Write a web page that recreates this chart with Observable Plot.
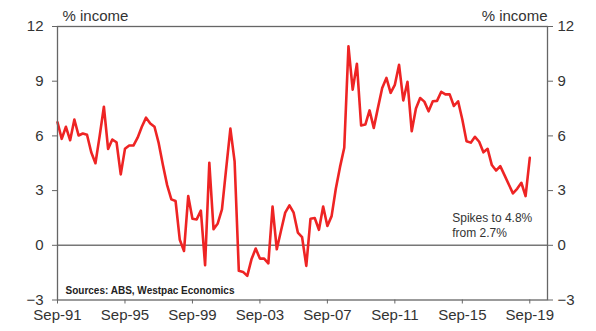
<!DOCTYPE html>
<html>
<head>
<meta charset="utf-8">
<script src="https://cdn.jsdelivr.net/npm/d3@7"></script>
<script src="https://cdn.jsdelivr.net/npm/@observablehq/plot@0.6"></script>
<style>
  html, body { margin: 0; padding: 0; background: #fff; }
  #chart { width: 596px; height: 331px; }
</style>
</head>
<body>
<div id="chart"></div>
<script>
// Household saving ratio, % of income, quarterly from Sep-91 to Sep-19
const startLabel = "Sep-91";
const savingRatio = [
  6.75, 5.84, 6.5, 5.76, 6.9, 6.02, 6.13, 6.06, 5.1, 4.5,
  6.0, 7.6, 5.29, 5.8, 5.65, 3.89, 5.29, 5.47, 5.47, 5.9,
  6.5, 7.0, 6.68, 6.5, 5.6, 4.4, 3.3, 2.52, 2.43, 0.3,
  -0.31, 2.7, 1.46, 1.42, 1.9, -1.09, 4.53, 0.88, 1.2, 1.97,
  4.2, 6.4, 4.6, -1.4, -1.46, -1.68, -0.77, -0.18, -0.73, -0.73,
  -0.99, 2.12, -0.22, 0.8, 1.79, 2.19, 1.79, 0.7, 0.45, -1.13,
  1.46, 1.5, 0.85, 2.13, 1.06, 1.6, 3.1, 4.3, 5.35, 10.91,
  8.54, 9.96, 6.57, 6.62, 7.4, 6.44, 7.55, 8.63, 9.18, 8.36,
  8.8, 9.9, 7.95, 8.97, 6.26, 7.5, 8.08, 7.88, 7.35, 7.9,
  7.92, 8.42, 8.28, 8.28, 7.64, 7.9, 6.9, 5.71, 5.63, 5.95,
  5.68, 5.1, 5.29, 4.4, 4.1, 4.34, 3.85, 3.35, 2.85, 3.1,
  3.43, 2.7, 4.8
];
const xTickQuarters = [0, 16, 32, 48, 64, 80, 96, 112];
const xTickLabels = ["Sep-91", "Sep-95", "Sep-99", "Sep-03", "Sep-07", "Sep-11", "Sep-15", "Sep-19"];
const yTicks = [-3, 0, 3, 6, 9, 12];
const unitLabel = "% income";
const sourceText = "Sources: ABS, Westpac Economics";
const noteText = "Spikes to 4.8%\nfrom 2.7%";

const data = savingRatio.map((v, i) => ({q: i, v}));
const labelOf = new Map(xTickQuarters.map((q, i) => [q, xTickLabels[i]]));

const plot = Plot.plot({
  width: 596,
  height: 331,
  marginLeft: 57,
  marginRight: 49,
  marginTop: 26,
  marginBottom: 31.5,
  style: {fontFamily: "'Liberation Sans', Arial, sans-serif", fontSize: "15px", color: "#333", background: "#fff"},
  x: {domain: [0, 116.2]},
  y: {domain: [-3, 12]},
  marks: [
    Plot.ruleY([0], {stroke: "#777", strokeWidth: 1.5}),
    Plot.line(data, {x: "q", y: "v", stroke: "#ee2424", strokeWidth: 2.6, strokeLinejoin: "round"}),
    Plot.frame({stroke: "#666", strokeWidth: 1.3}),
    Plot.axisY(yTicks, {anchor: "left", tickSize: 5, tickPadding: 9, stroke: "#666", fill: "#333", fontSize: 15, label: null}),
    Plot.axisY(yTicks, {anchor: "right", tickSize: 5, tickPadding: 5, stroke: "#666", fill: "#333", fontSize: 15, label: null}),
    Plot.axisX(xTickQuarters, {anchor: "bottom", tickSize: 4, tickPadding: 5, stroke: "#666", fill: "#333", fontSize: 15, label: null, tickFormat: d => labelOf.get(d)}),
    Plot.text([unitLabel], {frameAnchor: "top-left", dx: 5, dy: -10, text: d => d, textAnchor: "start", lineAnchor: "middle", fontSize: 15, fill: "#333"}),
    Plot.text([unitLabel], {frameAnchor: "top-right", dx: 0, dy: -10, text: d => d, textAnchor: "end", lineAnchor: "middle", fontSize: 15, fill: "#333"}),
    Plot.text([sourceText], {frameAnchor: "bottom-left", dx: 8, dy: -9, text: d => d, textAnchor: "start", lineAnchor: "middle", fontSize: 10, fontWeight: "bold", fill: "#222"}),
    Plot.text([noteText], {x: 93.6, y: 1.13, text: d => d, textAnchor: "start", lineAnchor: "middle", lineHeight: 1.25, fontSize: 12, fill: "#333"})
  ]
});
document.getElementById("chart").appendChild(plot);
</script>
</body>
</html>
